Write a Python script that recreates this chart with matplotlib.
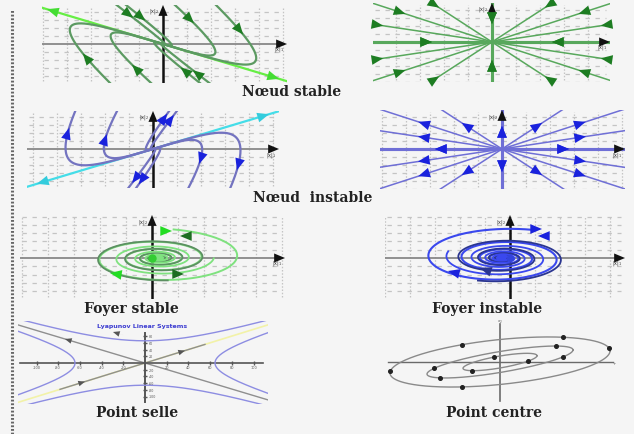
import numpy as np
import matplotlib.pyplot as plt
from matplotlib.lines import Line2D

W, H = 634, 435
BG = '#f5f5f5'
GRID = '#c4c4c4'

################################################################
#################### DATA ######################################
################################################################

# all panels use pixel-like units around their origin (y up)

# Noeud stable : eigenvalues, eigen directions, (a, b) coefficients, arrow times
ns_eig = [-1.0, -4.0]
ns_v1 = [1.0, -0.30]
ns_v2 = [1.0, -0.75]
ns_coefs = [[140, -50], [80, -30], [25, -60], [10, -70],
            [-140, 50], [-80, 30], [-25, 60], [-10, 70]]
ns_arrow_t = [-0.1, -0.2, 0.1, 0.15, -0.1, -0.2, 0.1, 0.15]

# Noeud instable (flow reversed)
ni_eig = [-1.0, -4.0]
ni_v1 = [1.0, 0.30]
ni_v2 = [1.0, 1.25]
ni_coefs = [[130, -45], [75, -28], [20, -45], [-10, 60],
            [-130, 45], [-75, 28], [-20, 45], [10, -60]]
ni_arrow_t = [0.0, 0.0, 0.1, 0.2, 0.0, 0.0, 0.1, 0.2]

# star nodes : ray angles (deg) and distance of the arrow heads
star_angles = [0, 8.5, 18, 33, 90]
star_arrow_r = [60, 110, 91, 63, 18]
star_i_arrow_r = [67, 85, 88, 48, 23]

# foyers : half axes, decay per turn, number of turns
fs_axes = [90, 29]
fs_decay = 0.55
fs_turns = 6.5
fi_axes = [88, 30]
fi_turns = 6.5

# point selle
selle_u = [[1, 0.3], [1, -0.3]]
selle_c = [37, 35]
selle_xticks = [-5, -4, -3, -2, -1, 1, 2, 3, 4, 5]
selle_xlabels = ['-100', '-80', '-60', '-40', '-20', '20', '40', '60', '80', '100']
selle_yticks = [-5, -4, -3, -2, -1, 1, 2, 3, 4]
selle_ylabels = ['-100', '-80', '-60', '-40', '-20', '20', '40', '60', '80']

# point centre : ellipses (half width, half height, shear) and dot angles
centre_a = [37, 73, 110]
centre_b = [6, 10.5, 22.5]
centre_shear = [0.17, 0.165, 0.10]
centre_dots = [[100, 320, 220], [155, 40, 330, 215], [175, 110, 55, 8, 250]]

titles = ['N\u0153ud stable', 'N\u0153ud  instable', 'Foyer stable',
          'Foyer instable', 'Point selle', 'Point centre']

################################################################
#################### HELPERS ###################################
################################################################

fig = plt.figure(figsize=(W / 100, H / 100), dpi=100, facecolor=BG)


def panel(left, top, right, bottom, ox, oy):
    ax = fig.add_axes([left / W, 1 - bottom / H, (right - left) / W, (bottom - top) / H])
    ax.set_xlim(left - ox, right - ox)
    ax.set_ylim(oy - bottom, oy - top)
    ax.axis('off')
    ax.patch.set_alpha(0)
    return ax


def dash_grid(ax, dx, dy):
    x0, x1 = ax.get_xlim()
    y0, y1 = ax.get_ylim()
    for x in np.arange(np.ceil(x0 / dx) * dx, x1, dx):
        if abs(x) > 1:
            ax.plot([x, x], [y0 + 2, y1 - 2], color=GRID, lw=0.9, ls=(0, (1.2, 1.4)), zorder=0)
    for y in np.arange(np.ceil(y0 / dy) * dy, y1, dy):
        if abs(y) > 1:
            ax.plot([x0 + 2, x1 - 4], [y, y], color=GRID, lw=0.9, ls=(0, (3.5, 4.5)), zorder=0)


def head(ax, p0, p1, color, size=14):
    ax.annotate('', xy=p1, xytext=p0,
                arrowprops=dict(arrowstyle='-|>,head_length=0.6,head_width=0.25',
                                color=color, lw=0.01, mutation_scale=size,
                                shrinkA=0, shrinkB=0), zorder=6)


def cross(ax, hcol='#888888', vcol='#111111', lw_v=1.8, labels=True):
    x0, x1 = ax.get_xlim()
    y0, y1 = ax.get_ylim()
    ax.plot([x0, x1 - 6], [0, 0], color=hcol, lw=1.3, zorder=2)
    ax.plot([0, 0], [y0, y1 - 6], color=vcol, lw=lw_v, zorder=2)
    head(ax, (x1 - 14, 0), (x1, 0), '#111111', 13)
    head(ax, (0, y1 - 14), (0, y1), '#111111', 13)
    if labels:
        ax.text(-4, y1 - 6, '|x|$_2$', fontsize=3.5, ha='right', va='center', color='#333333')
        ax.text(x1 - 8, -5, '|x|$_1$', fontsize=3.5, ha='center', va='center', color='#333333')


def node_traj(coef, v1, v2, eig, t):
    a, b = coef
    return np.outer(a * np.exp(eig[0] * t), v1) + np.outer(b * np.exp(eig[1] * t), v2)


def node_panel(ax, coefs, arrow_t, v1, v2, eig, col, acol, reverse):
    t = np.linspace(-1.5, 6, 2000)
    for coef, ta in zip(coefs, arrow_t):
        pts = node_traj(coef, v1, v2, eig, t)
        ax.plot(pts[:, 0], pts[:, 1], color=col, lw=1.6, zorder=3)
        p = node_traj(coef, v1, v2, eig, np.array([ta - 0.02, ta]))
        if reverse:
            head(ax, p[1], p[0], acol)
        else:
            head(ax, p[0], p[1], acol)


def label(x, y, s):
    fig.text(x / W, 1 - y / H, s, ha='center', va='center', fontsize=10,
             family='DejaVu Serif', weight='bold', color='#222222')


################################################################
#################### NOEUD STABLE ##############################
################################################################

ax = panel(42, 6, 287, 84, 163, 45)
dash_grid(ax, 24, 8)
cross(ax)
ax.axline((0, 0), ns_v1, color='#66ee44', lw=1.6, zorder=3)
node_panel(ax, ns_coefs, ns_arrow_t, ns_v1, ns_v2, ns_eig, '#5c9a62', '#1d7d22', False)
head(ax, (-100, 30), (-116, 34.8), '#44dd33')
head(ax, (100, -30), (116, -34.8), '#44dd33')

################################################################
#################### NOEUD STABLE (ETOILE) #####################
################################################################

ax = panel(373, 4, 610, 83, 492, 43)
dash_grid(ax, 24, 8)
cross(ax, labels=True)
for ang, r in zip(star_angles, star_arrow_r):
    for sgn in (1, -1):
        for mir in (1, -1):
            d = np.array([np.cos(np.radians(ang)) * sgn, np.sin(np.radians(ang)) * mir])
            w = 2.2 if ang in (0, 90) else 1.1
            ax.plot([0, d[0] * 300], [0, d[1] * 300], color='#58a85c', lw=w, zorder=3)
            head(ax, d * (r + 8), d * r, '#1d7d22')

################################################################
#################### NOEUD INSTABLE ############################
################################################################

ax = panel(27, 112, 279, 189, 153, 150)
dash_grid(ax, 24, 8)
cross(ax)
ax.axline((0, 0), ni_v1, color='#44dde8', lw=1.6, zorder=3)
node_panel(ax, ni_coefs, ni_arrow_t, ni_v1, ni_v2, ni_eig, '#7373c0', '#1a22dd', True)
head(ax, (100, 30), (116, 34.8), '#33ccdd')
head(ax, (-100, -30), (-116, -34.8), '#33ccdd')

################################################################
#################### NOEUD INSTABLE (ETOILE) ###################
################################################################

ax = panel(380, 111, 625, 190, 502, 150)
dash_grid(ax, 24, 8)
cross(ax)
for ang, r in zip(star_angles, star_i_arrow_r):
    for sgn in (1, -1):
        for mir in (1, -1):
            d = np.array([np.cos(np.radians(ang)) * sgn, np.sin(np.radians(ang)) * mir])
            w = 2.2 if ang in (0, 90) else 1.1
            ax.plot([0, d[0] * 300], [0, d[1] * 300], color='#6f6fd6', lw=w, zorder=3)
            head(ax, d * (r - 8), d * r, '#1a22dd')

label(292, 92, titles[0])
label(313, 198, titles[1])

################################################################
#################### FOYER STABLE ##############################
################################################################

ax = panel(20, 216, 285, 300, 152, 259)
dash_grid(ax, 26, 8.3)
cross(ax)
th = np.linspace(0, 2 * np.pi * fs_turns, 3000)
k = -np.log(fs_decay) / (2 * np.pi)
for phase, amp, col, lw in [(0, 1.0, '#7fe27f', 1.4), (np.pi * 0.9, 0.78, '#5c8f62', 1.3),
                            (np.pi * 0.45, 0.62, '#7fe27f', 1.3)]:
    r = amp * np.exp(-k * th)
    ang = np.radians(80) - th - phase
    xs = fs_axes[0] * r * np.cos(ang) + 6
    ys = fs_axes[1] * r * np.sin(ang)
    ax.plot(xs, ys, color=col, lw=lw, zorder=3)
ax.plot([0], [0], 'o', color='#33cc33', ms=5, zorder=4)
head(ax, (40, 22), (28, 22), '#1d6d22')
head(ax, (18, -16), (32, -16), '#1d6d22')
head(ax, (-30, -17), (-42, -15), '#22dd22')
head(ax, (10, 27), (20, 27), '#22dd22')
label(131, 309, titles[2])

################################################################
#################### FOYER INSTABLE ############################
################################################################

ax = panel(385, 216, 625, 300, 510, 259)
dash_grid(ax, 25, 8.3)
cross(ax)
th = np.linspace(0, 2 * np.pi * fi_turns, 3000)
for phase, amp, col, lw in [(0, 1.0, '#3a48ee', 1.5), (np.pi, 0.8, '#2a3590', 1.3),
                            (np.pi * 0.5, 0.65, '#3a48ee', 1.3)]:
    r = amp * np.exp(-k * th)
    ang = np.radians(70) + th + phase
    xs = fi_axes[0] * r * np.cos(ang) - 8
    ys = fi_axes[1] * r * np.sin(ang)
    ax.plot(xs, ys, color=col, lw=lw, zorder=3)
ax.plot([0], [0], 'o', color='#3344dd', ms=4, zorder=4)
head(ax, (20, 29), (32, 29), '#1a22dd')
head(ax, (38, 22), (28, 22), '#1a22dd')
head(ax, (-50, -16), (-62, -13), '#1a22dd')
head(ax, (-18, -14), (-30, -10), '#2a3590')
label(487, 309, titles[3])

################################################################
#################### POINT SELLE ###############################
################################################################

ax = panel(18, 322, 268, 405, 145, 364)
x0, x1 = ax.get_xlim()
y0, y1 = ax.get_ylim()
ax.axline((0, 0), (1, 0.31), color='#f2f2a8', lw=1.2, zorder=1)
ax.axline((0, 0), (1, -0.30), color='#8f8f8f', lw=1.0, zorder=2)
ax.plot([-85, 60], [-85 * 0.31, 60 * 0.31], color='#8f8f8f', lw=1.0, zorder=2)
ax.plot([x0 + 2, x1 - 5], [0, 0], color='#555555', lw=1.2, zorder=3)
ax.plot([0, 0], [y0 + 2, 30], color='#555555', lw=1.4, zorder=3)
tt = np.linspace(-2.6, 2.6, 400)
u1 = np.array(selle_u[0])
u2 = np.array(selle_u[1])
for c, sa, sb in [(selle_c[0], 1, -1), (selle_c[0], -1, 1), (selle_c[1], 1, 1), (selle_c[1], -1, -1)]:
    pts = np.outer(sa * c * np.exp(tt), u1) + np.outer(sb * c * np.exp(-tt), u2)
    ax.plot(pts[:, 0], pts[:, 1], color='#8d8de2', lw=1.0, zorder=3)
for xt, lab in zip(selle_xticks, selle_xlabels):
    ax.plot([xt * 21.7], [0], marker='|', color='#555555', ms=3, zorder=4)
    ax.text(xt * 21.7, -4, lab, fontsize=2.5, ha='center', va='center', color='#555555')
for yt, lab in zip(selle_yticks, selle_ylabels):
    ax.plot([0], [yt * 6.7], marker='_', color='#555555', ms=3, zorder=4)
    ax.text(4, yt * 6.7, lab, fontsize=2.3, ha='left', va='center', color='#555555')
head(ax, (-22, 28), (-32, 31), '#555555', 8)
head(ax, (-70, -21.7), (-60, -18.6), '#555555', 8)
head(ax, (30, 9.3), (40, 12.4), '#555555', 8)
head(ax, (-70, 21), (-80, 24), '#555555', 8)
fig.text(142 / W, 1 - 327 / H, 'Lyapunov Linear Systems', ha='center', va='center',
         fontsize=4.5, weight='bold', color='#3b3bd0')
label(137, 413, titles[4])

################################################################
#################### POINT CENTRE ##############################
################################################################

ax = panel(385, 322, 615, 405, 500, 363)
ax.plot([-112, 113], [0, 0], color='#6a6a6a', lw=1.0, zorder=2)
ax.plot([0, 0], [-39, 38], color='#6a6a6a', lw=1.2, zorder=2)
ax.text(0, 40, 'x$_2$', fontsize=3, ha='center', color='#555555')
ax.text(113, -1, '+', fontsize=3, ha='left', va='center', color='#555555')
th = np.linspace(0, 2 * np.pi, 400)
for a, b, s, dots in zip(centre_a, centre_b, centre_shear, centre_dots):
    xs = a * np.cos(th)
    ys = b * np.sin(th) + s * xs
    ax.plot(xs, ys, color='#8a8a8a', lw=1.0, zorder=3)
    d = np.radians(dots)
    ax.plot(a * np.cos(d), b * np.sin(d) + s * a * np.cos(d), 'o', color='#222222', ms=2.6, zorder=4)
label(494, 413, titles[5])

# dotted left border
fig.add_artist(Line2D([12 / W, 12 / W], [0, 1 - 10 / H], color='#666666', lw=2.2,
                      ls=(0, (0.6, 0.6))))

plt.savefig('out.png', dpi=100, facecolor=BG)
